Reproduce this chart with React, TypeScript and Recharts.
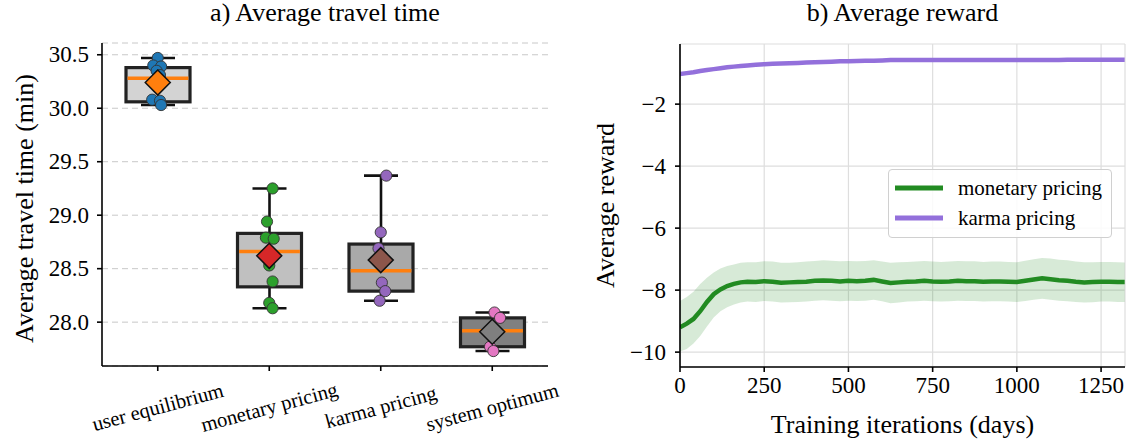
import React from 'react';
import {
  ComposedChart,
  Bar,
  Scatter,
  Line,
  Area,
  XAxis,
  YAxis,
  CartesianGrid,
  Legend,
} from 'recharts';

const FONT = 'Liberation Serif, DejaVu Serif, serif';

// a) travel time box plots
const categories = ['user equilibrium', 'monetary pricing', 'karma pricing', 'system optimum'];
const whiskerLow = [30.03, 28.13, 28.2, 27.73];
const q1 = [30.06, 28.33, 28.29, 27.77];
const median = [30.28, 28.66, 28.48, 27.92];
const q3 = [30.38, 28.83, 28.73, 28.04];
const whiskerHigh = [30.47, 29.25, 29.37, 28.09];
const means = [30.24, 28.62, 28.58, 27.91];

const runsUE = [30.47, 30.4, 30.39, 30.35, 30.31, 30.08, 30.07, 30.03];
const jitterUE = [0.0, -0.04, 0.03, -0.01, 0.02, -0.05, 0.02, 0.03];
const runsMP = [29.25, 28.94, 28.79, 28.78, 28.53, 28.38, 28.18, 28.13];
const jitterMP = [0.03, -0.02, -0.03, 0.04, 0.0, 0.03, 0.0, 0.03];
const runsKP = [29.37, 28.84, 28.69, 28.62, 28.37, 28.29, 28.2];
const jitterKP = [0.05, 0.0, -0.02, 0.01, 0.01, 0.04, -0.01];
const runsSO = [28.09, 28.04, 27.9, 27.77, 27.73];
const jitterSO = [0.02, 0.07, 0.0, -0.02, 0.01];

const travelTicks = [28.0, 28.5, 29.0, 29.5, 30.0, 30.5];

// b) reward curves
const iterations = [
  0, 20, 40, 60, 80, 100, 120, 140, 160, 180, 200, 225, 250, 275, 300, 325, 350, 375, 400, 425, 450, 475,
  500, 525, 550, 575, 600, 625, 650, 675, 700, 725, 750, 775, 800, 825, 850, 875, 900, 925, 950, 975,
  1000, 1025, 1050, 1075, 1100, 1125, 1150, 1175, 1200, 1225, 1250, 1275, 1300, 1320,
];
const monetaryMean = [
  -9.2, -9.08, -8.93, -8.68, -8.38, -8.13, -7.98, -7.87, -7.8, -7.75, -7.73, -7.74, -7.71, -7.73, -7.76,
  -7.75, -7.74, -7.73, -7.7, -7.69, -7.7, -7.72, -7.7, -7.71, -7.7, -7.67, -7.72, -7.77, -7.75, -7.73,
  -7.72, -7.7, -7.72, -7.73, -7.72, -7.7, -7.71, -7.71, -7.73, -7.72, -7.72, -7.73, -7.74, -7.7, -7.66,
  -7.62, -7.65, -7.68, -7.7, -7.73, -7.75, -7.74, -7.73, -7.73, -7.74, -7.74,
];
const monetaryUpper = [
  -8.35, -8.22, -8.05, -7.8, -7.6, -7.43, -7.3, -7.22, -7.17, -7.12, -7.1, -7.1, -7.07, -7.08, -7.12,
  -7.12, -7.1, -7.08, -7.06, -7.04, -7.05, -7.07, -7.06, -7.07, -7.06, -7.04, -7.08, -7.12, -7.1, -7.09,
  -7.08, -7.06, -7.08, -7.09, -7.08, -7.06, -7.07, -7.07, -7.09, -7.08, -7.08, -7.09, -7.1, -7.05, -7.0,
  -6.96, -6.98, -7.02, -7.04, -7.08, -7.1, -7.1, -7.09, -7.09, -7.1, -7.11,
];
const monetaryLower = [
  -9.98, -9.9, -9.72, -9.48, -9.17, -8.88, -8.68, -8.55, -8.46, -8.4, -8.37, -8.38, -8.35, -8.37, -8.4,
  -8.39, -8.38, -8.37, -8.34, -8.33, -8.34, -8.36, -8.34, -8.35, -8.34, -8.31, -8.36, -8.42, -8.4, -8.37,
  -8.36, -8.34, -8.36, -8.37, -8.36, -8.34, -8.35, -8.35, -8.37, -8.36, -8.36, -8.37, -8.38, -8.35, -8.31,
  -8.28, -8.31, -8.34, -8.36, -8.38, -8.4, -8.39, -8.37, -8.37, -8.38, -8.38,
];
const karmaMean = [
  -1.03, -1.0, -0.97, -0.93, -0.9, -0.87, -0.84, -0.81, -0.79, -0.77, -0.75, -0.73, -0.71, -0.7, -0.69,
  -0.68, -0.67, -0.66, -0.65, -0.64, -0.63, -0.62, -0.62, -0.61, -0.6, -0.6, -0.59, -0.58, -0.58, -0.58,
  -0.58, -0.58, -0.58, -0.58, -0.58, -0.58, -0.58, -0.58, -0.58, -0.58, -0.58, -0.58, -0.58, -0.58, -0.58,
  -0.58, -0.58, -0.58, -0.57, -0.57, -0.57, -0.57, -0.57, -0.57, -0.57, -0.57,
];
const rewardYTicks = [-10, -8, -6, -4, -2];
const rewardXTicks = [0, 250, 500, 750, 1000, 1250];

const boxFill = ['#d3d3d3', '#c0c0c0', '#a9a9a9', '#808080'];
const pointColor = ['#1f77b4', '#2ca02c', '#9467bd', '#e377c2'];
const meanColor = ['#ff7f0e', '#d62728', '#8c564b', '#7f7f7f'];

const boxRows = categories.map((c, i) => ({
  x: i,
  name: c,
  box: [q1[i], q3[i]],
  lo: whiskerLow[i],
  q1: q1[i],
  q3: q3[i],
  med: median[i],
  hi: whiskerHigh[i],
}));

const runs = [
  [runsUE, jitterUE],
  [runsMP, jitterMP],
  [runsKP, jitterKP],
  [runsSO, jitterSO],
].map(([vals, jit], i) => vals.map((v, j) => ({ x: i + jit[j], y: v })));

const meanRows = means.map((m, i) => ({ x: i, y: m, idx: i }));

const rewardRows = iterations.map((it, i) => ({
  it,
  monetary: monetaryMean[i],
  band: [monetaryLower[i], monetaryUpper[i]],
  karma: karmaMean[i],
}));

const BoxShape = (props: any) => {
  const { x, y, width, height, payload, index } = props;
  const k = height / (payload.q3 - payload.q1);
  const pix = (v: number) => y + (payload.q3 - v) * k;
  const cx = x + width / 2;
  const cap = 17;
  return (
    <g>
      <line x1={cx} x2={cx} y1={pix(payload.hi)} y2={y} stroke="#111" strokeWidth={2.6} />
      <line x1={cx} x2={cx} y1={y + height} y2={pix(payload.lo)} stroke="#111" strokeWidth={2.6} />
      <line x1={cx - cap} x2={cx + cap} y1={pix(payload.hi)} y2={pix(payload.hi)} stroke="#111" strokeWidth={2.6} />
      <line x1={cx - cap} x2={cx + cap} y1={pix(payload.lo)} y2={pix(payload.lo)} stroke="#111" strokeWidth={2.6} />
      <rect x={x} y={y} width={width} height={height} fill={boxFill[index]} stroke="#222" strokeWidth={3.2} />
      <line x1={x + 1.6} x2={x + width - 1.6} y1={pix(payload.med)} y2={pix(payload.med)} stroke="#ff7f0e" strokeWidth={3.6} />
    </g>
  );
};

const dot = (color: string) => (props: any) => (
  <circle cx={props.cx} cy={props.cy} r={5.6} fill={color} stroke="#333" strokeWidth={0.9} />
);

const Diamond = (props: any) => {
  const { cx, cy, payload } = props;
  const s = 12.5;
  return (
    <polygon
      points={`${cx},${cy - s} ${cx + s},${cy} ${cx},${cy + s} ${cx - s},${cy}`}
      fill={meanColor[payload.idx]}
      stroke="#111"
      strokeWidth={1.5}
    />
  );
};

const CategoryTick = (props: any) => {
  const { x, y, payload } = props;
  const cy = y + 32;
  return (
    <text
      x={x}
      y={cy}
      textAnchor="middle"
      dominantBaseline="central"
      transform={`rotate(-15 ${x} ${cy})`}
      fontFamily={FONT}
      fontSize={20.5}
      fill="#000"
    >
      {categories[payload.value]}
    </text>
  );
};

const minus = (v: number) => (v < 0 ? '\u2212' + Math.abs(v) : String(v));

const LeftTick = (fmt: (v: number) => string) => (props: any) => (
  <text x={props.x} y={props.y} textAnchor="end" dominantBaseline="central" fontFamily={FONT} fontSize={23} fill="#000">
    {fmt(props.payload.value)}
  </text>
);

const BottomTick = (props: any) => (
  <text x={props.x} y={props.y} textAnchor="middle" dominantBaseline="hanging" fontFamily={FONT} fontSize={23} fill="#000">
    {props.payload.value}
  </text>
);

const RewardLegend = () => (
  <div
    style={{
      border: '1px solid #d0d0d0',
      borderRadius: 4,
      background: 'rgba(255,255,255,0.85)',
      padding: '3px 8px 4px 6px',
      fontFamily: FONT,
      fontSize: 21,
      lineHeight: '30px',
    }}
  >
    {[
      ['monetary pricing', '#228b22'],
      ['karma pricing', '#9370db'],
    ].map(([label, color]) => (
      <div key={label} style={{ display: 'flex', alignItems: 'center' }}>
        <svg width={48} height={8} style={{ marginRight: 15 }}>
          <line x1={0} x2={48} y1={4} y2={4} stroke={color} strokeWidth={5} />
        </svg>
        <span>{label}</span>
      </div>
    ))}
  </div>
);

export default function App() {
  return (
    <div style={{ position: 'relative', width: 1127, height: 439, background: '#fff', fontFamily: FONT }}>
      <style>{'body{margin:0}'}</style>
      <div style={{ position: 'absolute', left: 102, width: 446, top: -2, textAlign: 'center', fontSize: 26 }}>
        a) Average travel time
      </div>
      <div style={{ position: 'absolute', left: 680, width: 445, top: -2, textAlign: 'center', fontSize: 26 }}>
        b) Average reward
      </div>

      <div style={{ position: 'absolute', left: 0, top: 0 }}>
        <ComposedChart width={560} height={439} data={boxRows} margin={{ top: 43, right: 12, bottom: 43, left: 0 }}>
          <CartesianGrid vertical={false} stroke="#c8c8c8" strokeDasharray="6 4" />
          <XAxis xAxisId="cat" dataKey="name" type="category" hide />
          <XAxis
            dataKey="x"
            type="number"
            domain={[-0.5, 3.5]}
            ticks={[0, 1, 2, 3]}
            allowDataOverflow
            height={30}
            tick={<CategoryTick />}
            tickSize={5}
            tickMargin={4}
            stroke="#000"
            strokeWidth={1.6}
            interval={0}
          />
          <YAxis
            type="number"
            domain={[27.59, 30.61]}
            ticks={travelTicks}
            allowDataOverflow
            width={102}
            tick={LeftTick((v) => v.toFixed(1))}
            tickSize={5}
            tickMargin={8}
            stroke="#000"
            strokeWidth={1.6}
            label={{
              content: (p: any) => {
                const vb = p.viewBox;
                const cy = vb.y + vb.height / 2 + 4;
                return (
                  <text x={24} y={cy} transform={`rotate(-90 24 ${cy})`} textAnchor="middle" dominantBaseline="central" fontFamily={FONT} fontSize={26}>
                    Average travel time (min)
                  </text>
                );
              },
            }}
          />
          <Bar xAxisId="cat" dataKey="box" barSize={64} shape={<BoxShape />} isAnimationActive={false} />
          {runs.map((pts, i) => (
            <Scatter key={i} data={pts} dataKey="y" shape={dot(pointColor[i])} isAnimationActive={false} />
          ))}
          <Scatter data={meanRows} dataKey="y" shape={<Diamond />} isAnimationActive={false} />
        </ComposedChart>
      </div>

      <div style={{ position: 'absolute', left: 570, top: 0 }}>
        <ComposedChart width={557} height={439} data={rewardRows} margin={{ top: 44, right: 2, bottom: 42, left: 0 }}>
          <CartesianGrid stroke="#dedede" strokeWidth={1.2} />
          <XAxis
            dataKey="it"
            type="number"
            domain={[0, 1321]}
            ticks={rewardXTicks}
            allowDataOverflow
            height={30}
            tick={BottomTick}
            tickSize={5}
            tickMargin={5}
            stroke="#000"
            strokeWidth={1.6}
            label={{
              content: (p: any) => {
                const vb = p.viewBox;
                return (
                  <text x={vb.x + vb.width / 2} y={424} textAnchor="middle" dominantBaseline="central" fontFamily={FONT} fontSize={26}>
                    Training iterations (days)
                  </text>
                );
              },
            }}
          />
          <XAxis xAxisId="top" orientation="top" type="number" domain={[0, 1321]} height={0} tick={false} tickLine={false} stroke="#000" strokeWidth={1.6} />
          <YAxis
            type="number"
            domain={[-10.48, -0.06]}
            ticks={rewardYTicks}
            allowDataOverflow
            width={110}
            tick={LeftTick(minus)}
            tickSize={5}
            tickMargin={9}
            stroke="#000"
            strokeWidth={1.6}
            label={{
              content: (p: any) => {
                const vb = p.viewBox;
                const cy = vb.y + vb.height / 2;
                return (
                  <text x={35} y={cy} transform={`rotate(-90 35 ${cy})`} textAnchor="middle" dominantBaseline="central" fontFamily={FONT} fontSize={26}>
                    Average reward
                  </text>
                );
              },
            }}
          />
          <YAxis yAxisId="right" orientation="right" type="number" domain={[-10.48, -0.06]} width={0} tick={false} tickLine={false} stroke="#000" strokeWidth={1.6} />
          <Area dataKey="band" stroke="none" fill="#228b22" fillOpacity={0.18} isAnimationActive={false} legendType="none" />
          <Line dataKey="monetary" stroke="#228b22" strokeWidth={4.5} dot={false} isAnimationActive={false} />
          <Line dataKey="karma" stroke="#9370db" strokeWidth={4.5} dot={false} isAnimationActive={false} />
          <Legend
            layout="vertical"
            align="center"
            verticalAlign="middle"
            content={<RewardLegend />}
            wrapperStyle={{ left: 318, top: 169, width: 224, height: 'auto' }}
          />
        </ComposedChart>
      </div>
    </div>
  );
}
